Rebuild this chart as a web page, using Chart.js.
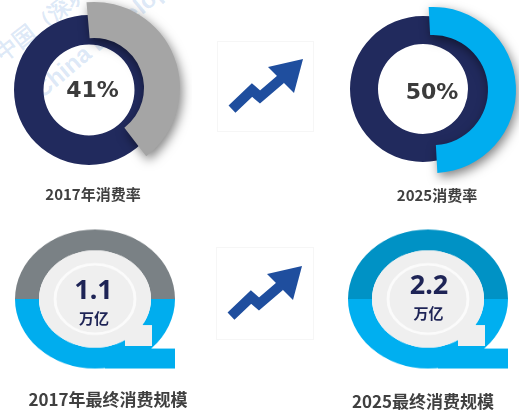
<!DOCTYPE html>
<html lang="zh">
<head>
<meta charset="utf-8">
<title>消费率与最终消费规模</title>
<script src="https://cdn.jsdelivr.net/npm/chart.js@4.4.1/dist/chart.umd.min.js"></script>
<style>
  body { margin: 0; background: #fff; }
  #page { position: relative; width: 519px; height: 410px; overflow: hidden; background: #fff;
          font-family: "Noto Sans CJK SC", "Noto Sans", sans-serif; }
  #page > canvas { position: absolute; }
  .txt { position: absolute; transform: translate(-50%, -50%); white-space: nowrap; line-height: 1; }
  .lbl { font-weight: 700; color: #404040; }
  .pct { font-family: "DejaVu Sans", sans-serif; font-weight: 700; font-size: 22px; color: #3b3b3b; }
  .num { font-family: "Noto Sans", sans-serif; font-weight: 700; font-size: 27px; color: #1e2456; }
  .unit { font-weight: 700; font-size: 15px; color: #1e2456; }
  .ring { position: absolute; width: 160px; height: 160px; transform: scaleY(0.869); }
  .ring canvas { display: block; }
  .frame { position: absolute; border: 1px solid #f6f6f6; }
  .wm { position: absolute; color: rgba(80, 140, 215, 0.2); font-family: "Liberation Sans", sans-serif;
        font-weight: 700; line-height: 1; transform-origin: 0 0; white-space: nowrap; }
</style>
</head>
<body>
<div id="page">
  <div class="wm" style="left:-8px;top:48px;font-size:22px;transform:rotate(-38deg)">中国（深圳）综合开发研究院</div>
  <div class="wm" style="left:29px;top:84px;font-size:24px;transform:rotate(-40deg)">China Development Institute</div>

  <div class="frame" style="left:217px;top:41px;width:95px;height:89px"></div>
  <div class="frame" style="left:216px;top:247px;width:96px;height:91px"></div>

  <canvas id="base0" width="150" height="150" style="left:13.5px;top:15px"></canvas>
  <canvas id="slice0" width="196" height="196" style="left:-4px;top:-10px"></canvas>
  <canvas id="base1" width="146" height="146" style="left:350px;top:16px"></canvas>
  <canvas id="slice1" width="190" height="190" style="left:338px;top:-5.5px"></canvas>

  <div class="ring" style="left:15px;top:218.5px"><canvas id="ring0" width="160" height="160"></canvas></div>
  <div class="ring" style="left:347.5px;top:218.5px"><canvas id="ring1" width="160" height="160"></canvas></div>

  <svg width="519" height="410" style="position:absolute;left:0;top:0">
    <g id="arrow" fill="#1f4e9e" stroke="#1f4e9e">
      <polyline points="232,109 252,90 260,97 281,79" fill="none" stroke-width="10" stroke-linejoin="miter"/>
      <polygon points="268,67 303,59 294,93" stroke="none"/>
    </g>
    <use href="#arrow" transform="translate(-1,207)"/>
  </svg>

  <div class="txt pct" id="pct0" style="left:92.5px;top:90px"></div>
  <div class="txt pct" id="pct1" style="left:432px;top:92px"></div>
  <div class="txt lbl" id="rlab0" style="left:93px;top:193px;font-size:15px"></div>
  <div class="txt lbl" id="rlab1" style="left:437px;top:194px;font-size:15px"></div>

  <div class="txt num" id="num0" style="left:93.5px;top:288px"></div>
  <div class="txt num" id="num1" style="left:429px;top:283px"></div>
  <div class="txt unit" id="unit0" style="left:94px;top:317px"></div>
  <div class="txt unit" id="unit1" style="left:428.5px;top:312px"></div>
  <div class="txt lbl" id="slab0" style="left:108px;top:398px;font-size:17px"></div>
  <div class="txt lbl" id="slab1" style="left:423px;top:400px;font-size:17px"></div>
</div>

<script>
// 消费率 (%)
const rateLabels = ['2017年消费率', '2025消费率'];
const rateValues = [41, 50];

// 最终消费规模 (万亿)
const scaleLabels = ['2017年最终消费规模', '2025最终消费规模'];
const scaleValues = [1.1, 2.2];
const scaleUnit = '万亿';

const navy = '#212a5d';
const rateColors = ['#a5a5a5', '#00adef'];
const ringTopColors = ['#7a8185', '#0092c5'];
const ringBottomColors = ['#00adee', '#00aff0'];
const diskColor = '#efefef';

// donut geometry (px): base ring and the raised slice
const rateGeo = [
  { baseCut: 45.5, sliceCut: 50, rot: -5 },
  { baseCut: 45, sliceCut: 55, rot: -3 }
];

function baseOptions(cutout, rotation, padding) {
  return {
    responsive: false,
    animation: false,
    events: [],
    cutout: cutout,
    rotation: rotation,
    layout: { padding: padding || 0 },
    plugins: { legend: { display: false }, tooltip: { enabled: false } }
  };
}

// sombra del sector levantado
const shadowPlugin = {
  id: 'sombra',
  beforeDatasetsDraw(chart) {
    const ctx = chart.ctx;
    ctx.save();
    ctx.shadowColor = 'rgba(0,0,0,0.5)';
    ctx.shadowBlur = 11;
    ctx.shadowOffsetX = 2;
    ctx.shadowOffsetY = 4;
  },
  afterDatasetsDraw(chart) {
    chart.ctx.restore();
  }
};

// "Q" shape: tail, notch and inner disk
const ringDecor = {
  id: 'decor',
  afterDatasetsDraw(chart, args, opts) {
    const arc = chart.getDatasetMeta(0).data[0];
    const cx = arc.x, cy = arc.y, ro = arc.outerRadius, ri = arc.innerRadius;
    const ctx = chart.ctx;
    ctx.save();
    ctx.fillStyle = opts.tail;
    ctx.fillRect(cx + 10, cy + 57, ro - 10, ro - 57);
    ctx.fillStyle = diskColor;
    ctx.beginPath();
    ctx.arc(cx, cy, ri, 0, Math.PI * 2);
    ctx.fill();
    ctx.fillRect(cx + 30, cy + 30, 27, 24);
    ctx.strokeStyle = 'rgba(255,255,255,0.75)';
    ctx.lineWidth = 3;
    ctx.beginPath();
    ctx.arc(cx, cy, 40, 0, Math.PI * 2);
    ctx.stroke();
    ctx.restore();
  }
};

rateValues.forEach((v, i) => {
  const g = rateGeo[i];
  new Chart(document.getElementById('base' + i), {
    type: 'doughnut',
    data: {
      labels: ['总量'],
      datasets: [{ data: [100], backgroundColor: [navy], borderWidth: 0, hoverOffset: 0 }]
    },
    options: baseOptions(g.baseCut, 0)
  });
  new Chart(document.getElementById('slice' + i), {
    type: 'doughnut',
    data: {
      labels: [rateLabels[i], '其他'],
      datasets: [{
        data: [v, 100 - v],
        backgroundColor: [rateColors[i], 'rgba(0,0,0,0)'],
        borderWidth: 0,
        hoverOffset: 0
      }]
    },
    options: baseOptions(g.sliceCut, g.rot, 12),
    plugins: [shadowPlugin]
  });
  document.getElementById('pct' + i).textContent = v + '%';
  document.getElementById('rlab' + i).textContent = rateLabels[i];
});

scaleValues.forEach((v, i) => {
  const opts = baseOptions(56, -90);
  opts.plugins.decor = { tail: ringBottomColors[i] };
  new Chart(document.getElementById('ring' + i), {
    type: 'doughnut',
    data: {
      labels: ['上', '下'],
      datasets: [{
        data: [50, 50],
        backgroundColor: [ringTopColors[i], ringBottomColors[i]],
        borderWidth: 0,
        hoverOffset: 0
      }]
    },
    options: opts,
    plugins: [ringDecor]
  });
  document.getElementById('num' + i).textContent = v.toFixed(1);
  document.getElementById('unit' + i).textContent = scaleUnit;
  document.getElementById('slab' + i).textContent = scaleLabels[i];
});
</script>
</body>
</html>
